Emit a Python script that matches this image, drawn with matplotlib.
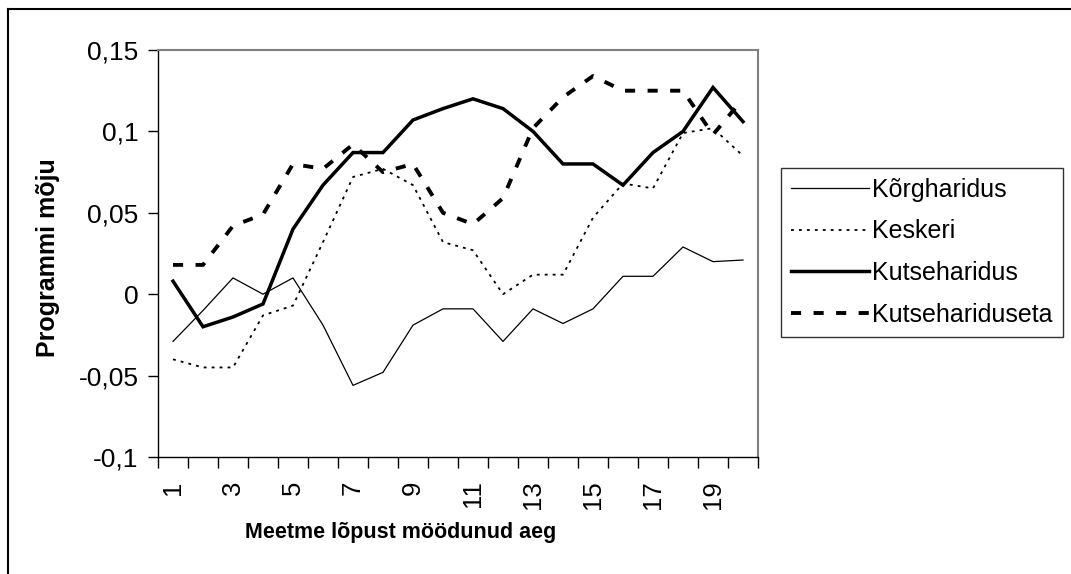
import matplotlib
matplotlib.use("Agg")
import matplotlib.pyplot as plt
from matplotlib.ticker import FixedLocator, FuncFormatter, MultipleLocator, NullFormatter
from matplotlib.lines import Line2D

plt.rcParams['font.family'] = ['Liberation Sans', 'DejaVu Sans']

periods = list(range(1, 21))

korgharidus = [-0.029, -0.010, 0.010, 0.000, 0.010, -0.019, -0.056, -0.048, -0.019, -0.009,
               -0.009, -0.029, -0.009, -0.018, -0.009, 0.011, 0.011, 0.029, 0.020, 0.021]
keskeri = [-0.040, -0.045, -0.045, -0.013, -0.007, 0.032, 0.072, 0.077, 0.067, 0.032,
           0.027, 0.000, 0.012, 0.012, 0.047, 0.068, 0.065, 0.099, 0.102, 0.085]
kutseharidus = [0.008, -0.020, -0.014, -0.006, 0.040, 0.067, 0.087, 0.087, 0.107, 0.114,
                0.120, 0.114, 0.100, 0.080, 0.080, 0.067, 0.087, 0.100, 0.127, 0.106]
kutsehariduseta = [0.018, 0.018, 0.042, 0.049, 0.080, 0.077, 0.092, 0.075, 0.080, 0.050,
                   0.043, 0.059, 0.102, 0.121, 0.134, 0.125, 0.125, 0.125, 0.098, 0.120]

labels = ["Kõrgharidus", "Keskeri", "Kutseharidus", "Kutsehariduseta"]

fig = plt.figure(figsize=(10.71, 5.74), dpi=100)
ax = fig.add_axes([158 / 1071, 1 - 457 / 574, 600 / 1071, 407 / 574])

ax.plot(periods, korgharidus, color='black', lw=0.9, label=labels[0])
ax.plot(periods, keskeri, color='black', lw=1.3, linestyle=(0, (1.6, 2.8)), label=labels[1])
ax.plot(periods, kutseharidus, color='black', lw=2.5, solid_joinstyle='miter', label=labels[2])
ax.plot(periods, kutsehariduseta, color='black', lw=2.8, linestyle=(0, (2.6, 3.2)), label=labels[3])

ax.set_xlim(0.5, 20.5)
ax.set_ylim(-0.1, 0.15)
ax.yaxis.set_major_locator(MultipleLocator(0.05))
ax.yaxis.set_major_formatter(FuncFormatter(lambda v, p: ('%g' % round(v, 4)).replace('.', ',')))

# category boundaries carry the ticks, odd categories carry the labels
ax.xaxis.set_major_locator(FixedLocator(periods[::2]))
ax.xaxis.set_major_formatter(FuncFormatter(lambda v, p: '%d' % v))
ax.xaxis.set_minor_locator(FixedLocator([p + 0.5 for p in [0] + periods]))
ax.xaxis.set_minor_formatter(NullFormatter())
ax.tick_params(axis='x', which='major', length=0, pad=17, labelsize=18.5, labelrotation=90)
ax.tick_params(axis='x', which='minor', length=8, width=1, direction='out')
ax.tick_params(axis='y', length=7, width=1, direction='out', pad=7, labelsize=19)

for s in ['top', 'right']:
    ax.spines[s].set_color('#808080')
    ax.spines[s].set_linewidth(1.5)
for s in ['left', 'bottom']:
    ax.spines[s].set_color('black')
    ax.spines[s].set_linewidth(1)

ax.set_xlabel("Meetme lõpust möödunud aeg", fontsize=15.5, fontweight='bold')
ax.set_ylabel("Programmi mõju", fontsize=18, fontweight='bold')
ax.xaxis.set_label_coords(0.405, -0.16)
ax.yaxis.set_label_coords(-0.163, 0.49)

leg = ax.legend(loc='upper left', bbox_to_anchor=(781 / 1071, 1 - 168 / 574),
                bbox_transform=fig.transFigure, fontsize=18, frameon=True, fancybox=False,
                handlelength=3.1, handletextpad=0.15, labelspacing=0.7, borderpad=0.4,
                borderaxespad=0)
leg.get_frame().set_edgecolor('black')
leg.get_frame().set_linewidth(1)

# chart border (only top and left edges are visible in the picture)
fig.add_artist(Line2D([8 / 1071, 8 / 1071], [0, 1 - 9 / 574], transform=fig.transFigure, color='black', lw=1.5))
fig.add_artist(Line2D([8 / 1071, 1], [1 - 9 / 574, 1 - 9 / 574], transform=fig.transFigure, color='black', lw=1.5))

fig.savefig("out.png", dpi=100)
